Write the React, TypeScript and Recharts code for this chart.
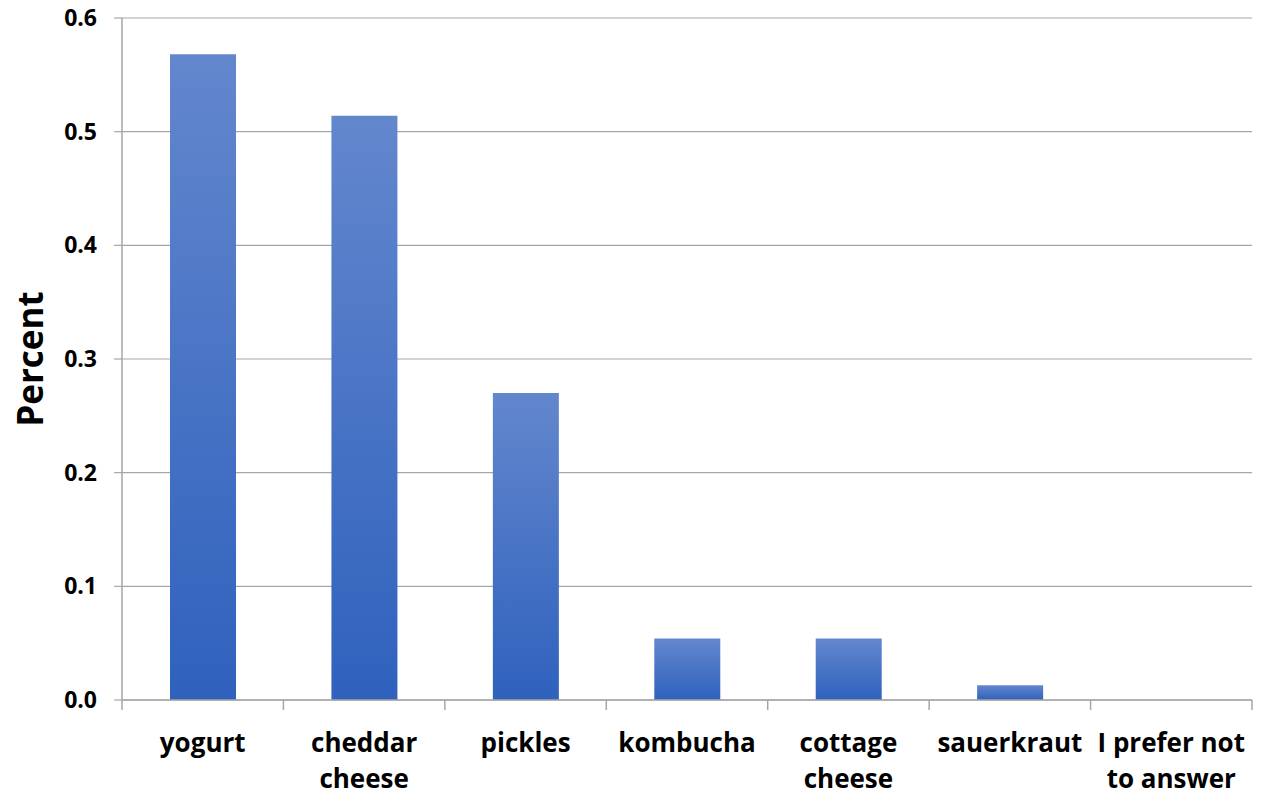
import { BarChart, Bar, XAxis, YAxis, CartesianGrid, Label } from 'recharts';

const categories = [
  'yogurt',
  'cheddar cheese',
  'pickles',
  'kombucha',
  'cottage cheese',
  'sauerkraut',
  'I prefer not to answer',
];
const percents = [0.568, 0.514, 0.27, 0.054, 0.054, 0.013, 0];
const yTicks = [0, 0.1, 0.2, 0.3, 0.4, 0.5, 0.6];

const data = categories.map((name, i) => ({ name, value: percents[i] }));

const FONT = '"Open Sans", "Liberation Sans", sans-serif';
const AXIS_GRAY = '#a6a6a6';

// greedy word wrap on character count
function wrap(text: string, maxChars: number): string[] {
  const lines: string[] = [];
  let cur = '';
  for (const w of text.split(' ')) {
    const next = cur ? cur + ' ' + w : w;
    if (next.length > maxChars && cur) {
      lines.push(cur);
      cur = w;
    } else {
      cur = next;
    }
  }
  if (cur) lines.push(cur);
  return lines;
}

function CategoryTick(props: any) {
  const { x, y, payload, index } = props;
  const half = payload?.offset ?? 80.7;
  const lines = wrap(String(payload.value), 12);
  const axisY = y - 10;
  return (
    <g>
      <line x1={x - half} x2={x - half} y1={axisY} y2={axisY + 10} stroke={AXIS_GRAY} strokeWidth={1.5} />
      {index === categories.length - 1 && (
        <line x1={x + half} x2={x + half} y1={axisY} y2={axisY + 10} stroke={AXIS_GRAY} strokeWidth={1.5} />
      )}
      <text
        x={x}
        y={axisY + 52}
        textAnchor="middle"
        fill="#000"
        fontSize={26}
        fontWeight={700}
        fontFamily={FONT}
      >
        {lines.map((line, i) => (
          <tspan key={i} x={x} dy={i === 0 ? 0 : 36}>
            {line}
          </tspan>
        ))}
      </text>
    </g>
  );
}

export default function App() {
  return (
    <div style={{ position: 'absolute', left: 0, top: 0, background: '#fff' }}>
      <BarChart
        width={1273}
        height={795}
        data={data}
        margin={{ top: 18, right: 21, left: 0, bottom: 0 }}
      >
        <defs>
          <linearGradient id="barFill" x1="0" y1="0" x2="0" y2="1">
            <stop offset="0%" stopColor="#6387cd" />
            <stop offset="100%" stopColor="#2f61bd" />
          </linearGradient>
        </defs>
        <CartesianGrid vertical={false} stroke={AXIS_GRAY} strokeWidth={1.2} />
        <XAxis
          dataKey="name"
          interval={0}
          tickLine={false}
          tickSize={10}
          tickMargin={0}
          axisLine={{ stroke: AXIS_GRAY, strokeWidth: 1.5 }}
          tick={<CategoryTick />}
          height={95}
        />
        <YAxis
          width={122}
          domain={[0, 0.6]}
          ticks={yTicks}
          tickFormatter={(v: number) => v.toFixed(1)}
          tickSize={8}
          tickMargin={17}
          tickLine={{ stroke: AXIS_GRAY, strokeWidth: 1.2 }}
          axisLine={{ stroke: AXIS_GRAY, strokeWidth: 1.5 }}
          tick={{ fill: '#000', fontSize: 23, fontWeight: 700, fontFamily: FONT }}
        >
          <Label
            value="Percent"
            angle={-90}
            position="insideLeft"
            offset={0}
            style={{ fill: '#000', fontSize: 35, fontWeight: 700, fontFamily: FONT, textAnchor: 'middle' }}
            dx={31}
          />
        </YAxis>
        <Bar dataKey="value" fill="url(#barFill)" barSize={66} isAnimationActive={false} />
      </BarChart>
    </div>
  );
}
